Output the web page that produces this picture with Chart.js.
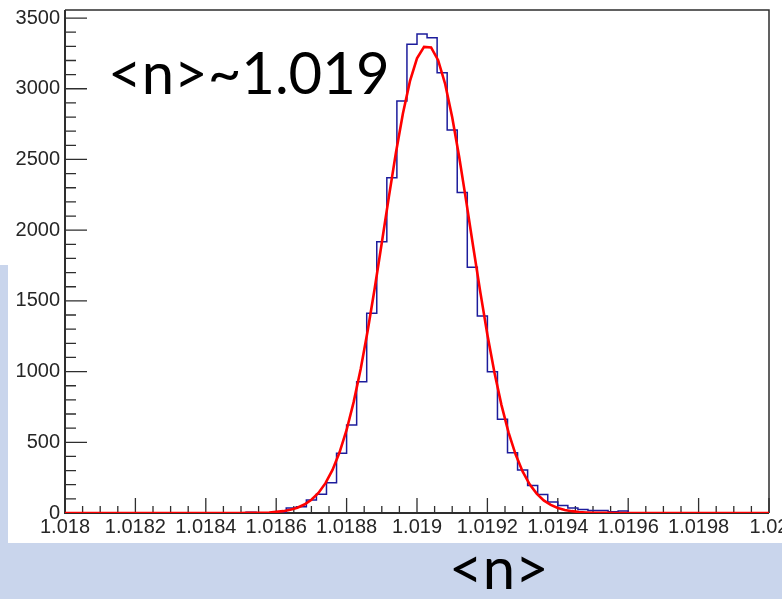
<!DOCTYPE html>
<html>
<head>
<meta charset="utf-8">
<script src="https://cdn.jsdelivr.net/npm/chart.js@4"></script>
<style>
  html, body { margin: 0; padding: 0; background: #fff; overflow: hidden; }
  #wrap { position: relative; width: 782px; height: 599px; }
  .band { position: absolute; background: #c9d5ec; }
  #chart { position: absolute; left: 0; top: 0; }
  .big { position: absolute; font-family: Lato, "Open Sans", sans-serif; font-size: 58px;
         color: #000; line-height: 1; white-space: nowrap; }
</style>
</head>
<body>
<div id="wrap">
  <div class="band" style="left:0;top:543px;width:782px;height:56px"></div>
  <div class="band" style="left:0;top:265px;width:8px;height:278px"></div>
  <canvas id="chart" width="782" height="599"></canvas>
  <div class="big" style="left:108px;top:43px">&lt;n&gt;~1.019</div>
  <div class="big" style="left:449px;top:538px">&lt;n&gt;</div>
</div>
<script>
// Histogram of <n>: 70 bins between histLow and histHigh
const histLow = 1.018;
const histHigh = 1.020;
const binCounts = [
  0, 0, 0, 0, 0, 0, 0, 0, 0, 0,
  0, 0, 0, 0, 0, 0, 0, 0, 6, 0,
  0, 0, 35, 45, 92, 132, 214, 422, 622, 929,
  1412, 1919, 2371, 2914, 3315, 3388, 3361, 3114, 2709, 2267,
  1738, 1393, 999, 663, 426, 304, 195, 130, 78, 53,
  36, 25, 18, 17, 8, 15, 0, 0, 0, 0,
  0, 0, 0, 0, 0, 0, 0, 0, 0, 0
];

// Gaussian fit curve, sampled at 101 evenly spaced points over the histogram range
const fitValues = [
  0, 0, 0, 0, 0, 0, 0, 0, 0, 0,
  0, 0, 0, 0, 0, 0, 0, 0, 0, 0,
  0, 0, 0, 0, 0, 0, 1, 1, 2, 4,
  8, 13, 23, 37, 60, 94, 142, 211, 305, 429,
  587, 784, 1019, 1290, 1591, 1911, 2234, 2546, 2825, 3054,
  3215, 3296, 3292, 3202, 3034, 2799, 2516, 2202, 1878, 1560,
  1261, 994, 763, 570, 415, 294, 203, 137, 89, 57,
  35, 21, 13, 7, 4, 2, 1, 1, 0, 0,
  0, 0, 0, 0, 0, 0, 0, 0, 0, 0,
  0, 0, 0, 0, 0, 0, 0, 0, 0, 0,
  0
];

const xTickValues = [1.018, 1.0182, 1.0184, 1.0186, 1.0188, 1.019, 1.0192, 1.0194, 1.0196, 1.0198, 1.02];
const yTickValues = [0, 500, 1000, 1500, 2000, 2500, 3000, 3500];
const yMax = 3557;

// outline points: left edge of every bin, plus the closing right edge
const binWidth = (histHigh - histLow) / binCounts.length;
const histPoints = binCounts.map((c, i) => ({ x: histLow + i * binWidth, y: c }));
histPoints.unshift({ x: histLow, y: 0 });
histPoints.push({ x: histHigh, y: binCounts[binCounts.length - 1] });

const fitStep = (histHigh - histLow) / (fitValues.length - 1);
const fitPoints = fitValues.map((v, i) => ({ x: histLow + i * fitStep, y: v }));

// frame box with inward major/minor ticks
const frameTicks = {
  id: 'frameTicks',
  beforeDatasetsDraw(chart) {
    const { ctx, chartArea: a, scales: { x, y } } = chart;
    ctx.save();
    ctx.strokeStyle = '#2e2e2e';
    ctx.lineWidth = 1.3;
    ctx.beginPath();
    const xDiv = 40; // 10 major divisions, 4 sub-divisions each
    for (let k = 0; k <= xDiv; k++) {
      const px = x.getPixelForValue(histLow + k * (histHigh - histLow) / xDiv);
      const len = k % 4 === 0 ? 15 : 7;
      ctx.moveTo(px, a.bottom);
      ctx.lineTo(px, a.bottom - len);
    }
    for (let v = 0; v <= yMax; v += 100) {
      const py = y.getPixelForValue(v);
      const len = v % 500 === 0 ? 22 : 11;
      ctx.moveTo(a.left, py);
      ctx.lineTo(a.left + len, py);
    }
    ctx.stroke();
    ctx.lineWidth = 1.5;
    ctx.beginPath();
    ctx.moveTo(a.left, a.top);
    ctx.lineTo(a.right, a.top);
    ctx.lineTo(a.right, a.bottom);
    ctx.stroke();
    ctx.lineWidth = 2;
    ctx.beginPath();
    ctx.moveTo(a.left, a.top);
    ctx.lineTo(a.left, a.bottom);
    ctx.lineTo(a.right, a.bottom);
    ctx.stroke();
    ctx.restore();
  }
};

const tickFont = { family: '"Liberation Sans", Arial, sans-serif', size: 20 };

new Chart(document.getElementById('chart'), {
  type: 'line',
  data: {
    datasets: [
      {
        label: 'gaus fit',
        data: fitPoints,
        borderColor: '#ff0000',
        borderWidth: 2.6,
        pointRadius: 0,
        tension: 0,
        clip: 0
      },
      {
        label: '<n>',
        data: histPoints,
        borderColor: '#1c1c9c',
        borderWidth: 1.5,
        pointRadius: 0,
        stepped: true,
        clip: 0
      }
    ]
  },
  options: {
    responsive: false,
    devicePixelRatio: 1,
    animation: false,
    events: [],
    layout: { padding: { top: 10, right: 13, left: 0, bottom: 0 } },
    plugins: { legend: { display: false }, tooltip: { enabled: false } },
    scales: {
      x: {
        type: 'linear',
        min: histLow,
        max: histHigh,
        grid: { display: false, drawTicks: false },
        border: { display: false },
        afterBuildTicks: (s) => { s.ticks = xTickValues.map(v => ({ value: v })); },
        afterFit: (s) => { s.height = 86; s.paddingLeft = 0; s.paddingRight = 0; },
        ticks: {
          autoSkip: false,
          maxRotation: 0,
          padding: 2,
          color: '#262626',
          font: tickFont,
          callback: (v) => String(Number(v.toFixed(4)))
        }
      },
      y: {
        type: 'linear',
        min: 0,
        max: yMax,
        grid: { display: false, drawTicks: false },
        border: { display: false },
        afterBuildTicks: (s) => { s.ticks = yTickValues.map(v => ({ value: v })); },
        afterFit: (s) => { s.width = 65; s.paddingTop = 0; s.paddingBottom = 0; },
        ticks: {
          padding: 5,
          color: '#262626',
          font: tickFont,
          callback: (v) => String(v)
        }
      }
    }
  },
  plugins: [frameTicks]
});
</script>
</body>
</html>
